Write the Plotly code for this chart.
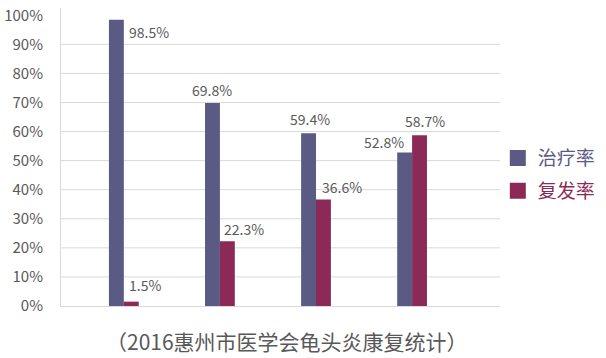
import plotly.graph_objects as go

# ---- data ----
groups = ["1", "2", "3", "4"]
series_names = ["治疗率", "复发率"]
cure_rate = [98.5, 69.8, 59.4, 52.8]
relapse_rate = [1.5, 22.3, 36.6, 58.7]
y_ticks = [0, 10, 20, 30, 40, 50, 60, 70, 80, 90, 100]
y_tick_labels = [f"{v}%" for v in y_ticks]
caption = "（2016惠州市医学会龟头炎康复统计）"

# ---- style ----
colors = ["#5B5A84", "#8B2A57"]
grid_color = "#D9D9D9"
text_color = "#595959"
font_family = "Noto Sans CJK SC, Noto Sans, sans-serif"
bargap = 0.69
# label offsets (px) per series per group, relative to top-centre of each bar
label_shift = [
    [(33, -12), (0, 13), (1, 14), (-21, 10)],
    [(14, 17), (17, 12), (19, 13), (5, 14)],
]

fig = go.Figure()
series_vals = [cure_rate, relapse_rate]
for name, vals, col in zip(series_names, series_vals, colors):
    fig.add_trace(go.Bar(
        x=groups, y=vals, name=name, marker=dict(color=col, line=dict(width=0)),
        showlegend=False, hoverinfo="skip",
    ))
# legend entries
for k, (name, col) in enumerate(zip(series_names, colors)):
    fig.add_trace(go.Scatter(
        x=[None], y=[None], mode="markers", name=f"<span style='color:{col}'>{name}</span>",
        marker=dict(symbol="square", size=16, color=col), legendgroup=f"g{k}",
    ))

bar_w = (1 - bargap) / 2
annotations = []
for s, vals in enumerate(series_vals):
    for i, v in enumerate(vals):
        dx, dy = label_shift[s][i]
        annotations.append(dict(
            x=i + (s - 0.5) * bar_w, y=v, xref="x", yref="y",
            text=f"{v}%", showarrow=False, xshift=dx, yshift=dy,
            xanchor="center", yanchor="middle",
            font=dict(size=14, color=text_color, family=font_family),
        ))
annotations.append(dict(
    x=0.515, y=-0.118, xref="paper", yref="paper", text=caption, showarrow=False,
    xanchor="center", yanchor="middle",
    font=dict(size=21, color=text_color, family=font_family),
))

shapes = [dict(type="line", xref="paper", yref="y", x0=0, x1=1, y0=v, y1=v,
               line=dict(color=grid_color, width=1), layer="below")
          for v in y_ticks[1:-1]]

fig.update_layout(
    width=606, height=358,
    margin=dict(l=60, r=106, t=4, b=52),
    paper_bgcolor="white", plot_bgcolor="white",
    barmode="group", bargap=bargap, bargroupgap=0,
    font=dict(family=font_family, color=text_color),
    annotations=annotations, shapes=shapes,
    legend=dict(x=0.995, y=0.560, xanchor="left", yanchor="top",
                font=dict(size=19, family=font_family),
                tracegroupgap=5, traceorder="grouped", bgcolor="rgba(0,0,0,0)"),
    xaxis=dict(type="category", range=[-0.654, 3.915], showticklabels=False,
               showgrid=False, showline=True, linecolor=grid_color, linewidth=1,
               zeroline=False, ticks=""),
    yaxis=dict(range=[0, 102.5], tickvals=y_ticks, ticktext=y_tick_labels,
               showgrid=False, showline=True, linecolor=grid_color, linewidth=1,
               zeroline=False, ticks="", ticklabelstandoff=14, ticklabeloverflow="allow",
               tickfont=dict(size=15, color=text_color, family=font_family)),
)

fig.write_html("out.html", config={"displayModeBar": False},
               post_script="document.body.style.margin='0';")
